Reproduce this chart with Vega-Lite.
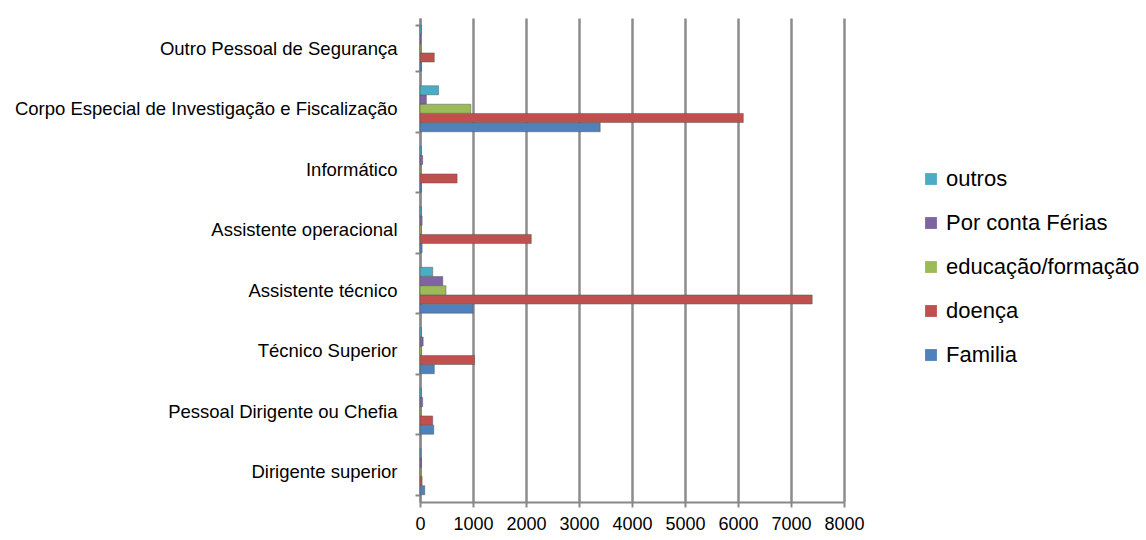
{
  "$schema": "https://vega.github.io/schema/vega-lite/v6.json",
  "autosize": {"type": "none"},
  "padding": {"left": 420, "top": 18, "right": 302, "bottom": 38},
  "width": 424,
  "height": 484,
  "background": "white",
  "config": {"font": "Liberation Sans", "view": {"stroke": null}},
  "data": {"values": [
    {"cat": "Dirigente superior", "tipo": "Familia", "v": 90},
    {"cat": "Dirigente superior", "tipo": "doença", "v": 40},
    {"cat": "Dirigente superior", "tipo": "educação/formação", "v": 20},
    {"cat": "Dirigente superior", "tipo": "Por conta Férias", "v": 30},
    {"cat": "Dirigente superior", "tipo": "outros", "v": 20},
    {"cat": "Pessoal Dirigente ou Chefia", "tipo": "Familia", "v": 260},
    {"cat": "Pessoal Dirigente ou Chefia", "tipo": "doença", "v": 240},
    {"cat": "Pessoal Dirigente ou Chefia", "tipo": "educação/formação", "v": 20},
    {"cat": "Pessoal Dirigente ou Chefia", "tipo": "Por conta Férias", "v": 50},
    {"cat": "Pessoal Dirigente ou Chefia", "tipo": "outros", "v": 30},
    {"cat": "Técnico Superior", "tipo": "Familia", "v": 270},
    {"cat": "Técnico Superior", "tipo": "doença", "v": 1030},
    {"cat": "Técnico Superior", "tipo": "educação/formação", "v": 30},
    {"cat": "Técnico Superior", "tipo": "Por conta Férias", "v": 60},
    {"cat": "Técnico Superior", "tipo": "outros", "v": 30},
    {"cat": "Assistente técnico", "tipo": "Familia", "v": 1000},
    {"cat": "Assistente técnico", "tipo": "doença", "v": 7400},
    {"cat": "Assistente técnico", "tipo": "educação/formação", "v": 490},
    {"cat": "Assistente técnico", "tipo": "Por conta Férias", "v": 430},
    {"cat": "Assistente técnico", "tipo": "outros", "v": 240},
    {"cat": "Assistente operacional", "tipo": "Familia", "v": 40},
    {"cat": "Assistente operacional", "tipo": "doença", "v": 2100},
    {"cat": "Assistente operacional", "tipo": "educação/formação", "v": 30},
    {"cat": "Assistente operacional", "tipo": "Por conta Férias", "v": 40},
    {"cat": "Assistente operacional", "tipo": "outros", "v": 30},
    {"cat": "Informático", "tipo": "Familia", "v": 30},
    {"cat": "Informático", "tipo": "doença", "v": 700},
    {"cat": "Informático", "tipo": "educação/formação", "v": 20},
    {"cat": "Informático", "tipo": "Por conta Férias", "v": 50},
    {"cat": "Informático", "tipo": "outros", "v": 30},
    {"cat": "Corpo Especial de Investigação e Fiscalização", "tipo": "Familia", "v": 3400},
    {"cat": "Corpo Especial de Investigação e Fiscalização", "tipo": "doença", "v": 6100},
    {"cat": "Corpo Especial de Investigação e Fiscalização", "tipo": "educação/formação", "v": 960},
    {"cat": "Corpo Especial de Investigação e Fiscalização", "tipo": "Por conta Férias", "v": 120},
    {"cat": "Corpo Especial de Investigação e Fiscalização", "tipo": "outros", "v": 350},
    {"cat": "Outro Pessoal de Segurança", "tipo": "Familia", "v": 30},
    {"cat": "Outro Pessoal de Segurança", "tipo": "doença", "v": 270},
    {"cat": "Outro Pessoal de Segurança", "tipo": "educação/formação", "v": 20},
    {"cat": "Outro Pessoal de Segurança", "tipo": "Por conta Férias", "v": 20},
    {"cat": "Outro Pessoal de Segurança", "tipo": "outros", "v": 30}
  ]},
  "mark": {"type": "bar", "strokeWidth": 0.8, "strokeOpacity": 0.6, "stroke": "#555"},
  "encoding": {
    "y": {
      "field": "cat", "type": "nominal", "title": null,
      "sort": ["Outro Pessoal de Segurança", "Corpo Especial de Investigação e Fiscalização", "Informático", "Assistente operacional", "Assistente técnico", "Técnico Superior", "Pessoal Dirigente ou Chefia", "Dirigente superior"],
      "scale": {"paddingInner": 0.24, "paddingOuter": 0.12},
      "axis": {"labelFontSize": 18.5, "labelColor": "#000", "labelPadding": 18, "tickSize": 5, "tickColor": "#888", "tickWidth": 2, "domainColor": "#888", "domainWidth": 2, "tickBand": "extent", "labelLimit": 420}
    },
    "yOffset": {
      "field": "tipo", "type": "nominal",
      "scale": {"domain": ["outros", "Por conta Férias", "educação/formação", "doença", "Familia"], "paddingInner": 0.02}
    },
    "x": {
      "field": "v", "type": "quantitative", "title": null,
      "scale": {"domain": [0, 8000], "nice": false},
      "axis": {"values": [0, 1000, 2000, 3000, 4000, 5000, 6000, 7000, 8000], "format": "d", "labelFontSize": 18, "labelColor": "#000", "labelPadding": 8, "tickSize": 5, "tickColor": "#888", "tickWidth": 2, "domainColor": "#888", "domainWidth": 2, "gridColor": "#8c8c8c", "gridWidth": 2.5, "labelFlush": false}
    },
    "color": {
      "field": "tipo", "type": "nominal",
      "scale": {"domain": ["outros", "Por conta Férias", "educação/formação", "doença", "Familia"], "range": ["#4BACC6", "#8064A2", "#9BBB59", "#C0504D", "#4F81BD"]},
      "legend": {"title": null, "orient": "none", "legendX": 500, "legendY": 150, "labelFontSize": 22, "labelColor": "#000", "symbolType": "square", "symbolSize": 140, "symbolStrokeWidth": 0, "rowPadding": 22, "labelOffset": 4, "labelLimit": 300}
    }
  }
}
